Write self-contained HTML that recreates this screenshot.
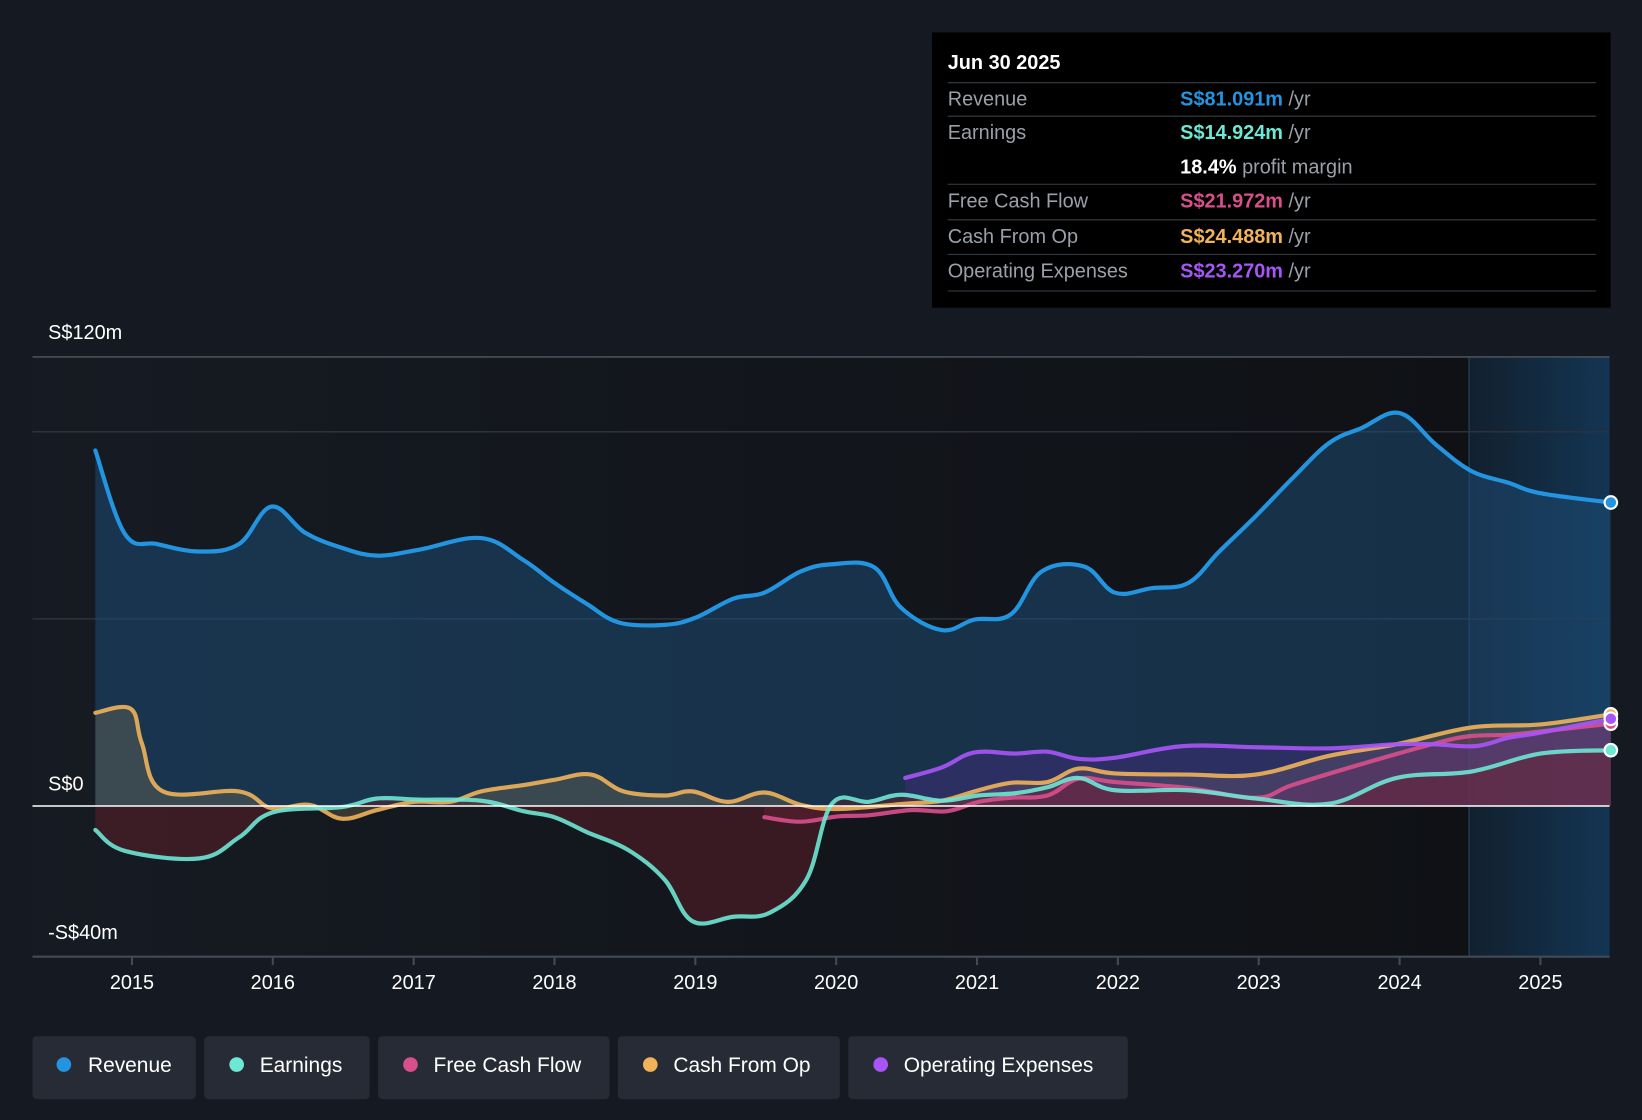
<!DOCTYPE html>
<html><head><meta charset="utf-8"><style>
html,body{margin:0;padding:0;background:#151a22;}
svg{display:block;font-family:"Liberation Sans",Roboto,sans-serif;}
</style></head><body>
<svg id="chart" width="1642" height="1120" viewBox="0 0 1568 1070" preserveAspectRatio="none" xmlns="http://www.w3.org/2000/svg">
<defs>
<linearGradient id="bgGrad" x1="0" x2="1" y1="0" y2="0">
<stop offset="0" stop-color="#161b23"/><stop offset="1" stop-color="#0f1115"/></linearGradient>
<linearGradient id="fcGrad" x1="0" x2="1" y1="0" y2="0">
<stop offset="0" stop-color="#12202e"/><stop offset="1" stop-color="#133553"/></linearGradient>
</defs>
<rect x="0" y="0" width="1568" height="1070" fill="#151a22"/>
<rect x="31" y="341" width="1372" height="573" fill="url(#bgGrad)"/>
<rect x="1403" y="341" width="134" height="573" fill="url(#fcGrad)"/>
<line x1="1403" y1="341" x2="1403" y2="914" stroke="#1f3a52" stroke-width="1.5"/>
<g id="grid"></g>
<g id="areas"></g>
<g id="lines"></g>
<line x1="31" y1="770" x2="1537" y2="770" stroke="#ffffff" stroke-width="1.5"/>
<line x1="31" y1="914" x2="1537" y2="914" stroke="#444a55" stroke-width="2"/>
<g id="xticks"></g>
<g id="dots"></g>
<text x="46" y="324" fill="#ffffff" font-size="19">S$120m</text>
<text x="46" y="755" fill="#ffffff" font-size="19">S$0</text>
<text x="46" y="897" fill="#ffffff" font-size="19">-S$40m</text>

<g>
<rect x="890" y="31" width="648" height="263" fill="#000000"/>
<text x="905" y="66" fill="#ffffff" font-size="19" font-weight="bold">Jun 30 2025</text>
<line x1="905" y1="79" x2="1524" y2="79" stroke="#3a3f47"/>
<text x="905" y="101" fill="#9aa0a8" font-size="19">Revenue</text>
<text x="1127" y="101" font-size="19"><tspan fill="#2394df" font-weight="bold">S$81.091m</tspan><tspan fill="#9aa0a8"> /yr</tspan></text>
<line x1="905" y1="111" x2="1524" y2="111" stroke="#3a3f47"/>
<text x="905" y="133" fill="#9aa0a8" font-size="19">Earnings</text>
<text x="1127" y="133" font-size="19"><tspan fill="#6ee7d4" font-weight="bold">S$14.924m</tspan><tspan fill="#9aa0a8"> /yr</tspan></text>
<text x="1127" y="166" font-size="19"><tspan fill="#ffffff" font-weight="bold">18.4%</tspan><tspan fill="#9aa0a8"> profit margin</tspan></text>
<line x1="905" y1="176" x2="1524" y2="176" stroke="#3a3f47"/>
<text x="905" y="198" fill="#9aa0a8" font-size="19">Free Cash Flow</text>
<text x="1127" y="198" font-size="19"><tspan fill="#d94f8c" font-weight="bold">S$21.972m</tspan><tspan fill="#9aa0a8"> /yr</tspan></text>
<line x1="905" y1="210" x2="1524" y2="210" stroke="#3a3f47"/>
<text x="905" y="232" fill="#9aa0a8" font-size="19">Cash From Op</text>
<text x="1127" y="232" font-size="19"><tspan fill="#f0b35a" font-weight="bold">S$24.488m</tspan><tspan fill="#9aa0a8"> /yr</tspan></text>
<line x1="905" y1="243" x2="1524" y2="243" stroke="#3a3f47"/>
<text x="905" y="265" fill="#9aa0a8" font-size="19">Operating Expenses</text>
<text x="1127" y="265" font-size="19"><tspan fill="#a855f7" font-weight="bold">S$23.270m</tspan><tspan fill="#9aa0a8"> /yr</tspan></text>
<line x1="905" y1="278" x2="1524" y2="278" stroke="#3a3f47"/>
</g>

<g>
<g><rect x="31" y="990" width="156" height="60" rx="4" fill="#262b35"/><circle cx="61" cy="1017" r="7" fill="#2394df"/><text x="84" y="1024" fill="#ffffff" font-size="20">Revenue</text></g>
<g><rect x="195" y="990" width="158" height="60" rx="4" fill="#262b35"/><circle cx="226" cy="1017" r="7" fill="#6ee7d4"/><text x="248" y="1024" fill="#ffffff" font-size="20">Earnings</text></g>
<g><rect x="361" y="990" width="221" height="60" rx="4" fill="#262b35"/><circle cx="392" cy="1017" r="7" fill="#d94f8c"/><text x="414" y="1024" fill="#ffffff" font-size="20">Free Cash Flow</text></g>
<g><rect x="590" y="990" width="212" height="60" rx="4" fill="#262b35"/><circle cx="621" cy="1017" r="7" fill="#f0b35a"/><text x="643" y="1024" fill="#ffffff" font-size="20">Cash From Op</text></g>
<g><rect x="810" y="990" width="267" height="60" rx="4" fill="#262b35"/><circle cx="841" cy="1017" r="7" fill="#a855f7"/><text x="863" y="1024" fill="#ffffff" font-size="20">Operating Expenses</text></g>
</g>
</svg>
<script>
const xTickYears = [2015,2016,2017,2018,2019,2020,2021,2022,2023,2024,2025];
const gridValues = [120,100,50];
const revYears = [2014.74,2014.95,2015.18,2015.48,2015.76,2015.99,2016.23,2016.49,2016.74,2017.04,2017.48,2017.78,2018.0,2018.23,2018.46,2018.78,2019.0,2019.27,2019.49,2019.75,2019.97,2020.27,2020.46,2020.75,2020.98,2021.24,2021.46,2021.76,2021.98,2022.24,2022.5,2022.72,2022.98,2023.24,2023.5,2023.73,2024.0,2024.26,2024.51,2024.77,2025.0,2025.5];
const revValues = [95,72.7,70,68,70,80,73,69,66.9,68.5,71.6,65.7,59.6,54,49,48.4,50.3,55.4,57,62.7,64.6,63.8,53,47,49.8,51.2,62.7,64,57,58.2,59.6,68,77.5,87.6,97,101,105,96.5,89.5,86.4,83.6,81.1];
const earnYears = [2014.74,2014.95,2015.48,2015.76,2016.0,2016.49,2016.74,2017.04,2017.48,2017.78,2018.0,2018.23,2018.52,2018.78,2018.98,2019.27,2019.53,2019.79,2019.97,2020.23,2020.46,2020.75,2021.01,2021.27,2021.5,2021.72,2021.98,2022.5,2022.98,2023.5,2023.98,2024.51,2025.0,2025.5];
const earnValues = [-6.4,-12,-14,-8.4,-1.7,-0.3,2,1.7,1.4,-1.4,-3,-7,-11.7,-19.6,-30.8,-29.6,-28.5,-19.6,0.6,1.1,3,1.4,2.8,3.4,5,7.5,4.2,4.2,2,0.6,7.5,9.2,14,14.9];
const fcfYears = [2019.49,2019.75,2020.01,2020.23,2020.53,2020.79,2021.01,2021.24,2021.5,2021.72,2021.98,2022.5,2022.98,2023.24,2023.73,2024.26,2024.51,2024.77,2025.0,2025.5];
const fcfValues = [-3,-4.2,-2.8,-2.5,-1.1,-1.4,1.1,2.2,2.8,7.3,6.4,4.8,2.2,5.6,11.2,16.8,18.7,19,19.9,22];
const cfoYears = [2014.74,2014.99,2015.07,2015.22,2015.76,2015.99,2016.26,2016.49,2016.74,2017.0,2017.26,2017.48,2017.78,2018.0,2018.26,2018.49,2018.78,2018.98,2019.23,2019.49,2019.75,2020.01,2020.49,2020.75,2021.01,2021.24,2021.5,2021.72,2021.98,2022.5,2022.98,2023.5,2023.98,2024.51,2025.0,2025.5];
const cfoValues = [24.9,26,16.8,3.9,3.9,-0.6,0.3,-3.4,-1.1,1.1,1.1,3.9,5.6,7,8.4,3.9,2.8,3.9,1.1,3.6,0.3,-0.8,0.6,1.4,4.2,6.2,6.4,10,8.7,8.4,8.4,13.4,16.5,21,21.8,24.5];
const opxYears = [2020.49,2020.75,2020.98,2021.27,2021.5,2021.72,2021.98,2022.46,2022.98,2023.5,2023.98,2024.24,2024.54,2024.77,2025.0,2025.5];
const opxValues = [7.5,10.3,14.3,14,14.5,12.6,12.9,16,15.7,15.4,16.5,16.5,16,18.2,19.6,23.3];

const NS='http://www.w3.org/2000/svg';
const X = y => 126 + (y-2015)*134.5;
const Y = v => 770 - v*3.575;
function mk(tag, attrs, parent){const e=document.createElementNS(NS,tag);for(const k in attrs)e.setAttribute(k,attrs[k]);parent.appendChild(e);return e;}
function pathD(xs, vs){
  const p = xs.map((x,i)=>[X(x),Y(vs[i])]);
  let d='M'+p[0][0]+','+p[0][1];
  for(let i=0;i<p.length-1;i++){
    const p0=p[i-1]||p[i], p1=p[i], p2=p[i+1], p3=p[i+2]||p2;
    const t=0.18;
    const c1=[p1[0]+(p2[0]-p0[0])*t, p1[1]+(p2[1]-p0[1])*t];
    const c2=[p2[0]-(p3[0]-p1[0])*t, p2[1]-(p3[1]-p1[1])*t];
    d+=` C${c1[0]},${c1[1]} ${c2[0]},${c2[1]} ${p2[0]},${p2[1]}`;
  }
  return d;
}
const grid=document.getElementById('grid');
gridValues.forEach(v=>{
  const l=mk('line',{x1:31,x2:1537,y1:Y(v),y2:Y(v),stroke: v===120?'#4a4f58':'#2c323c','stroke-width':1.5},grid);
  
  
});
const xt=document.getElementById('xticks');
xTickYears.forEach(yr=>{
  const l=mk('line',{x1:X(yr),x2:X(yr),y1:914,y2:922,stroke:'#444a55','stroke-width':2},xt);
  
  
  const t=mk('text',{x:X(yr),y:945,fill:'#ffffff','font-size':19,'text-anchor':'middle'},xt);
  t.textContent=yr;
  
  
});
const series=[
 {name:'revenue',xs:revYears,vs:revValues,color:'#2394df',fill:'#1e4a72',fo:0.55},
 {name:'cash-from-op',xs:cfoYears,vs:cfoValues,color:'#f0b35a',fill:'#8a7a5a',fo:0.3},
 {name:'free-cash-flow',xs:fcfYears,vs:fcfValues,color:'#d94f8c',fill:'#8a2a50',fo:0.3},
 {name:'operating-expenses',xs:opxYears,vs:opxValues,color:'#a855f7',fill:'#5a2a9a',fo:0.3},
 {name:'earnings',xs:earnYears,vs:earnValues,color:'#6ee7d4',fill:'#6a1e2a',fo:0.45}
];
const areas=document.getElementById('areas'), lines=document.getElementById('lines'), dots=document.getElementById('dots');
series.forEach(s=>{
  const d=pathD(s.xs,s.vs);
  const x0=X(s.xs[0]), x1=X(s.xs[s.xs.length-1]);
  const a=mk('path',{d:d+` L${x1},${Y(0)} L${x0},${Y(0)} Z`,fill:s.fill,'fill-opacity':s.fo},areas);
  
  
  const l=mk('path',{d:d,fill:'none',stroke:s.color,'stroke-width':4,'stroke-linecap':'round','stroke-opacity': s.name==='revenue'?1:0.9},lines);
  
  
  const c=mk('circle',{cx:x1,cy:Y(s.vs[s.vs.length-1]),r:6,fill:s.color,stroke:'#ffffff','stroke-width':2},dots);
  
  
});
</script>
</body></html>
